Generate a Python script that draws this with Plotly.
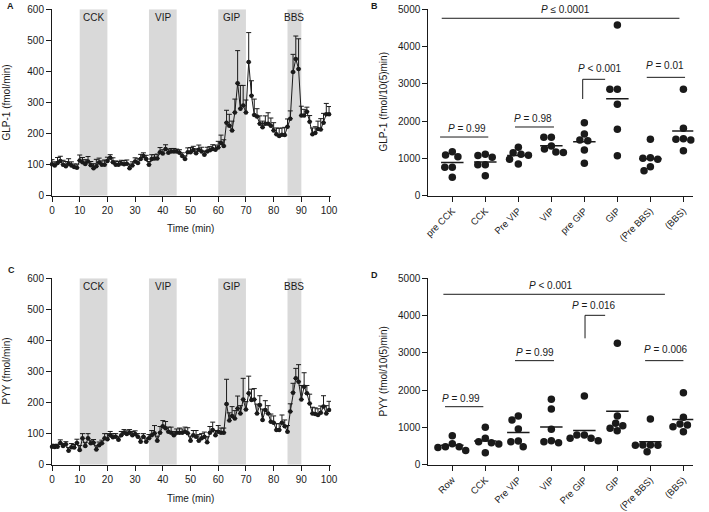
import plotly.graph_objects as go

# ---------------- data ----------------
time_min = list(range(0, 101))

glp1_mean = [101, 97, 105, 112, 100, 95, 103, 97, 92, 90,
             113, 108, 102, 110, 98, 88, 95, 107, 100, 100,
             112, 122, 108, 100, 100, 104, 101, 103, 88, 97,
             110, 105, 118, 128, 118, 100, 118, 120, 120, 140,
             136, 150, 138, 142, 142, 142, 138, 128, 118, 140,
             140, 147, 137, 148, 142, 132, 142, 146, 150, 148,
             155, 170, 160, 235, 225, 210, 268, 362, 280, 290,
             268, 430, 322, 260, 255, 232, 220, 232, 232, 225,
             210, 198, 192, 196, 195, 222, 248, 398, 440, 408,
             258, 258, 270, 238, 198, 202, 215, 213, 235, 262, 262]
glp1_sem = [15, 12, 18, 15, 14, 15, 16, 12, 10, 12,
            18, 15, 14, 16, 12, 15, 22, 14, 12, 15,
            12, 10, 14, 12, 10, 10, 12, 12, 14, 12,
            12, 14, 15, 10, 12, 10, 14, 12, 14, 15,
            12, 14, 12, 10, 10, 8, 10, 10, 10, 14,
            15, 12, 14, 15, 14, 12, 14, 12, 14, 15,
            20, 25, 20, 40, 37, 30, 43, 105, 75, 65,
            40, 95, 48, 51, 25, 25, 20, 25, 35, 25,
            25, 20, 25, 22, 25, 25, 25, 57, 74, 97,
            30, 20, 15, 20, 20, 20, 25, 35, 30, 35, 25]

pyy_mean = [58, 57, 58, 70, 60, 66, 45, 56, 55, 70,
            47, 85, 60, 85, 69, 71, 49, 63, 69, 85,
            82, 95, 88, 90, 80, 95, 103, 99, 103, 95,
            99, 90, 74, 90, 74, 85, 95, 101, 77, 103,
            124, 117, 106, 103, 95, 103, 103, 103, 106, 101,
            77, 95, 90, 77, 85, 90, 72, 103, 112, 95,
            106, 103, 103, 195, 142, 157, 149, 181, 165, 210,
            178, 230, 208, 210, 165, 192, 144, 176, 165, 138,
            135, 112, 112, 135, 124, 106, 171, 232, 278, 267,
            210, 251, 230, 197, 165, 163, 160, 167, 187, 165, 176]
pyy_sem = [8, 8, 8, 10, 8, 8, 10, 12, 10, 12,
           15, 15, 12, 15, 10, 10, 12, 10, 10, 15,
           18, 12, 12, 10, 10, 12, 10, 10, 10, 12,
           10, 10, 12, 10, 12, 12, 15, 25, 15, 20,
           18, 22, 15, 18, 12, 12, 15, 12, 15, 18,
           15, 15, 20, 20, 15, 15, 18, 20, 25, 15,
           20, 15, 15, 80, 25, 30, 25, 40, 25, 68,
           25, 55, 35, 35, 30, 30, 35, 30, 25, 25,
           22, 20, 20, 25, 20, 20, 25, 30, 32, 55,
           45, 45, 25, 30, 20, 20, 20, 22, 35, 25, 28]

stim_names = ["CCK", "VIP", "GIP", "BBS"]
stim_start = [10, 35, 60, 85]
stim_end = [20, 45, 70, 90]

b_categories = ["pre CCK", "CCK", "Pre VIP", "VIP", "pre GIP", "GIP", "(Pre BBS)", "(BBS)"]
glp1_auc = [
    [1180, 1092, 1046, 762, 762, 493],
    [1110, 1075, 1030, 830, 830, 537],
    [1298, 1153, 1110, 1083, 976, 850],
    [1570, 1570, 1330, 1250, 1160, 1170],
    [1959, 1655, 1494, 1476, 1226, 869],
    [4580, 2854, 2854, 2452, 1781, 1073],
    [1513, 1019, 1003, 976, 778, 671],
    [2854, 1808, 1529, 1513, 1494, 1207],
]
d_categories = ["Row", "CCK", "Pre VIP", "VIP", "Pre GIP", "GIP", "(Pre BBS)", "(BBS)"]
pyy_auc = [
    [778, 560, 480, 460, 480, 380],
    [1003, 708, 617, 590, 555, 322],
    [1306, 1199, 958, 636, 617, 483],
    [1754, 1494, 950, 644, 617, 590],
    [1843, 797, 797, 708, 708, 644],
    [3256, 1306, 1110, 1046, 976, 912],
    [1226, 530, 528, 525, 520, 349],
    [1932, 1271, 1092, 1065, 1019, 885],
]
b_pvalues = ["≤ 0.0001", "= 0.99", "= 0.98", "< 0.001", "= 0.01"]
d_pvalues = ["< 0.001", "= 0.016", "= 0.99", "= 0.006", "= 0.99"]

# ---------------- layout helpers ----------------
W, H = 709, 512
FONT = "Arial, 'Liberation Sans', Helvetica, sans-serif"
INK = "#1a1a1a"


def xd(a, b):
    return [a / W, b / W]


def yd(top, bottom):
    return [1 - bottom / H, 1 - top / H]


def px_x(p):
    return p / W


def px_y(p):
    return 1 - p / H


TOP_A, BOT_A = 9.3, 195.7
TOP_C, BOT_C = 278.3, 464.7
LEFT_L, RIGHT_L = 52.0, 331.0
LEFT_R, RIGHT_R = 428.3, 693.3
CAT_PX = 33.0
SCAT_PX_PER_UNIT = (BOT_A - TOP_A) / 5000.0


def swarm(values, d_px=7.5):
    order = sorted(range(len(values)), key=lambda i: -values[i])
    placed = []
    offs = [0.0] * len(values)
    for i in order:
        y = values[i] * SCAT_PX_PER_UNIT
        cands = [0.0]
        for (px, py) in placed:
            dy = abs(py - y)
            if dy < d_px:
                dx = (d_px ** 2 - dy ** 2) ** 0.5
                cands += [px - dx, px + dx]
        cands.sort(key=lambda c: (round(abs(c), 6), c))
        chosen = cands[-1]
        for c in cands:
            if all((c - px) ** 2 + (y - py) ** 2 >= d_px ** 2 - 1e-6 for px, py in placed):
                chosen = c
                break
        placed.append((chosen, y))
        offs[i] = chosen / CAT_PX
    return offs


fig = go.Figure()

# ---------------- time courses (A, C) ----------------
for series, sem, xa, ya in [(glp1_mean, glp1_sem, "x", "y"), (pyy_mean, pyy_sem, "x3", "y3")]:
    fig.add_trace(go.Scatter(
        x=time_min, y=series, mode="lines+markers", xaxis=xa, yaxis=ya,
        line=dict(color=INK, width=1),
        marker=dict(color=INK, size=4.5),
        error_y=dict(type="data", array=sem, arrayminus=[0] * len(sem), symmetric=False,
                     color=INK, thickness=1, width=2.5),
        showlegend=False, cliponaxis=False, hoverinfo="skip",
    ))

shapes = []
annotations = []
for xr, yr, ymax in [("x", "y", 600), ("x3", "y3", 600)]:
    for name, s, e in zip(stim_names, stim_start, stim_end):
        shapes.append(dict(type="rect", xref=xr, yref=yr, x0=s, x1=e, y0=0, y1=ymax,
                           fillcolor="#d9d9d9", line=dict(width=0), layer="below"))
        annotations.append(dict(xref=xr, yref=yr, x=(s + e) / 2, y=ymax, yanchor="top",
                                yshift=-1, text=name, showarrow=False,
                                font=dict(size=10, color=INK, family=FONT)))

# ---------------- scatter (B, D) ----------------
for data, xa, ya in [(glp1_auc, "x2", "y2"), (pyy_auc, "x4", "y4")]:
    xs, ys, mx, my = [], [], [], []
    for i, vals in enumerate(data):
        offs = swarm(vals)
        xs += [i + o for o in offs]
        ys += vals
        m = sum(vals) / len(vals)
        mx += [i - 0.34, i + 0.34, None]
        my += [m, m, None]
    fig.add_trace(go.Scatter(x=xs, y=ys, mode="markers", xaxis=xa, yaxis=ya,
                             marker=dict(color=INK, size=7.5), showlegend=False, cliponaxis=False,
                             hoverinfo="skip"))
    fig.add_trace(go.Scatter(x=mx, y=my, mode="lines", xaxis=xa, yaxis=ya,
                             line=dict(color=INK, width=1.5), showlegend=False, cliponaxis=False,
                             hoverinfo="skip"))


def add_sig(xr, yr, text, tx, ty, segs):
    for (x0, y0, x1, y1) in segs:
        shapes.append(dict(type="line", xref=xr, yref=yr, x0=x0, y0=y0, x1=x1, y1=y1,
                           line=dict(color=INK, width=1)))
    annotations.append(dict(xref=xr, yref=yr, x=tx, y=ty, text="<i>P</i> " + text,
                            showarrow=False, font=dict(size=10, color=INK, family=FONT)))


# B
add_sig("x2", "y2", b_pvalues[0], 3.43, 5000, [(-0.32, 4759, 6.88, 4759)])
add_sig("x2", "y2", b_pvalues[1], 0.43, 1807, [(-0.37, 1574, 1.09, 1574)])
add_sig("x2", "y2", b_pvalues[2], 2.45, 2075, [(1.90, 1843, 3.08, 1843)])
add_sig("x2", "y2", b_pvalues[3], 4.47, 3400, [(3.95, 3122, 4.63, 3122), (3.95, 3122, 3.95, 2594)])
add_sig("x2", "y2", b_pvalues[4], 6.43, 3489, [(5.89, 3175, 7.05, 3175)])
# D
add_sig("x4", "y4", d_pvalues[0], 2.98, 4794, [(-0.27, 4571, 6.44, 4571)])
add_sig("x4", "y4", d_pvalues[1], 4.28, 4258, [(4.02, 4007, 4.63, 4007), (4.02, 4007, 4.02, 3390)])
add_sig("x4", "y4", d_pvalues[2], 2.50, 3006, [(1.90, 2791, 3.08, 2791)])
add_sig("x4", "y4", d_pvalues[3], 6.47, 3077, [(5.84, 2791, 7.00, 2791)])
add_sig("x4", "y4", d_pvalues[4], 0.26, 1780, [(-0.22, 1556, 0.94, 1556)])

# axis titles and panel letters
def paper_text(x, y, text, size=10, angle=0, bold=False):
    annotations.append(dict(xref="paper", yref="paper", x=px_x(x), y=px_y(y),
                            xanchor="center", yanchor="middle", text=f"<b>{text}</b>" if bold else text,
                            textangle=angle, showarrow=False,
                            font=dict(size=size, color=INK, family=FONT)))


paper_text(6, (TOP_A + BOT_A) / 2, "GLP-1 (fmol/min)", angle=-90)
paper_text(383, (TOP_A + BOT_A) / 2, "GLP-1 (fmol/10(5)min)", angle=-90)
paper_text(6, (TOP_C + BOT_C) / 2, "PYY (fmol/min)", angle=-90)
paper_text(383, (TOP_C + BOT_C) / 2, "PYY (fmol/10(5)min)", angle=-90)
paper_text(190, 228, "Time (min)")
paper_text(190, 498, "Time (min)")
paper_text(10, 6, "A", size=9, bold=True)
paper_text(375, 6, "B", size=9, bold=True)
paper_text(11, 270, "C", size=9, bold=True)
paper_text(375, 275, "D", size=9, bold=True)

axis_common = dict(showline=True, linecolor=INK, linewidth=1, ticks="outside", ticklen=5,
                   tickwidth=1, tickcolor=INK, showgrid=False, zeroline=False, automargin=False,
                   tickfont=dict(size=10, color=INK, family=FONT))
cat_axis = dict(axis_common, tickfont=dict(size=9.5, color=INK, family=FONT))

time_ticks = list(range(0, 101, 10))

fig.update_layout(
    template="none",
    width=W, height=H, margin=dict(l=0, r=0, t=0, b=0, pad=0, autoexpand=False),
    paper_bgcolor="white", plot_bgcolor="white",
    font=dict(family=FONT, color=INK),
    hovermode=False,
    shapes=shapes, annotations=annotations,
    xaxis=dict(domain=xd(LEFT_L, RIGHT_L), range=[0, 100.7], tickvals=time_ticks, anchor="y", **axis_common),
    yaxis=dict(domain=yd(TOP_A, BOT_A), range=[0, 600], dtick=100, anchor="x", **axis_common),
    xaxis2=dict(domain=xd(LEFT_R, RIGHT_R), range=[-0.727, 7.30], tickvals=list(range(8)),
                ticktext=b_categories, tickangle=-45, anchor="y2", **cat_axis),
    yaxis2=dict(domain=yd(TOP_A, BOT_A), range=[0, 5000], dtick=1000, anchor="x2", **axis_common),
    xaxis3=dict(domain=xd(LEFT_L, RIGHT_L), range=[0, 100.7], tickvals=time_ticks, anchor="y3", **axis_common),
    yaxis3=dict(domain=yd(TOP_C, BOT_C), range=[0, 600], dtick=100, anchor="x3", **axis_common),
    xaxis4=dict(domain=xd(LEFT_R, RIGHT_R), range=[-0.727, 7.30], tickvals=list(range(8)),
                ticktext=d_categories, tickangle=-45, anchor="y4", **cat_axis),
    yaxis4=dict(domain=yd(TOP_C, BOT_C), range=[0, 5000], dtick=1000, anchor="x4", **axis_common),
)

fig.write_html("out.html", config={"displayModeBar": False, "staticPlot": True},
               post_script="document.body.style.margin='0px';document.body.style.overflow='hidden';")
